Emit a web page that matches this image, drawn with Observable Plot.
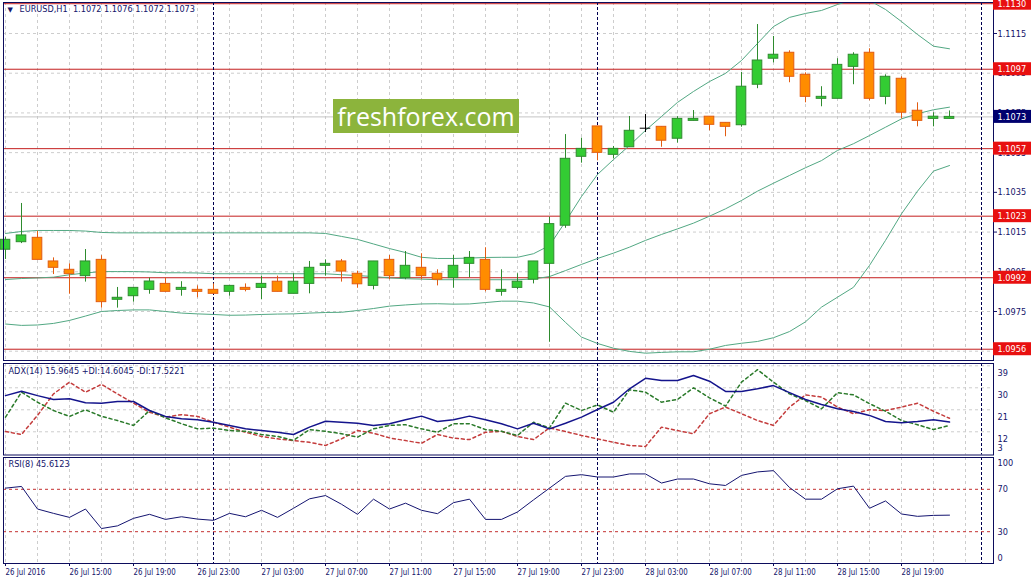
<!DOCTYPE html>
<html><head><meta charset="utf-8">
<script src="https://cdn.jsdelivr.net/npm/d3@7"></script>
<script src="https://cdn.jsdelivr.net/npm/@observablehq/plot@0.6"></script>
<style>
body{margin:0;background:#fff;}
#chart{position:relative;width:1033px;height:585px;overflow:hidden;background:#fff;}
#chart svg{position:absolute;left:0;background:transparent;max-width:none;}
#chart text{white-space:pre;}
#wm{position:absolute;left:333px;top:99px;width:186px;height:34px;background:#8cb43c;color:#fff;font:25px "Open Sans",sans-serif;display:flex;align-items:center;justify-content:center;line-height:1;}
</style></head><body><div id="chart"></div>
<script>
// ---------- data ----------
const symbol = "EURUSD,H1";
const opens  = [1.10061,1.10099,1.10121,1.10002,1.09960,1.09928,1.10010,1.09809,1.09827,1.09859,1.09889,1.09859,1.09859,1.09859,1.09849,1.09869,1.09869,1.09900,1.09839,1.09889,1.09980,1.10002,1.09940,1.09879,1.10010,1.09918,1.09970,1.09940,1.09918,1.09990,1.10010,1.09849,1.09869,1.09910,1.09990,1.10182,1.10529,1.10682,1.10539,1.10577,1.10673,1.10680,1.10620,1.10710,1.10731,1.10700,1.10688,1.10892,1.11023,1.11053,1.10942,1.10821,1.10821,1.10982,1.11053,1.10831,1.10922,1.10761,1.10720,1.1072];
const highs  = [1.10124,1.10294,1.10154,1.10020,1.09990,1.10062,1.10031,1.09871,1.09869,1.09918,1.09918,1.09900,1.09879,1.09889,1.09879,1.09889,1.09928,1.09928,1.09940,1.10002,1.10010,1.10012,1.09953,1.10002,1.10032,1.10052,1.10041,1.09960,1.10032,1.10052,1.10071,1.09960,1.09940,1.10002,1.10225,1.10641,1.10623,1.10682,1.10581,1.10732,1.10742,1.10680,1.10731,1.10762,1.10731,1.10700,1.10954,1.11195,1.11135,1.11063,1.10952,1.10882,1.11023,1.11053,1.11073,1.10942,1.10932,1.10801,1.10751,1.1076];
const lows   = [1.10012,1.10092,1.10010,1.09936,1.09837,1.09898,1.09767,1.09767,1.09797,1.09837,1.09849,1.09827,1.09819,1.09839,1.09827,1.09849,1.09809,1.09849,1.09839,1.09839,1.09928,1.09898,1.09867,1.09859,1.09910,1.09910,1.09910,1.09879,1.09867,1.09920,1.09849,1.09827,1.09859,1.09889,1.09595,1.10169,1.10497,1.10509,1.10519,1.10577,1.10651,1.10577,1.10598,1.10710,1.10660,1.10630,1.10678,1.10872,1.11002,1.10902,1.10801,1.10781,1.10821,1.10892,1.10811,1.10791,1.10720,1.10680,1.10680,1.1072];
const closes = [1.10111,1.10133,1.10010,1.09970,1.09938,1.10002,1.09797,1.09819,1.09869,1.09901,1.09849,1.09869,1.09849,1.09839,1.09879,1.09859,1.09889,1.09849,1.09900,1.09970,1.09990,1.09951,1.09887,1.10002,1.09928,1.09980,1.09928,1.09910,1.09980,1.10020,1.09859,1.09859,1.09900,1.10002,1.10190,1.10519,1.10569,1.10549,1.10569,1.10660,1.10673,1.10610,1.10720,1.10720,1.10690,1.10680,1.10882,1.11014,1.11043,1.10932,1.10831,1.10831,1.10992,1.11043,1.10821,1.10932,1.10751,1.10710,1.10731,1.1073];

const bbUpper  = [1.10143,1.10153,1.10158,1.10158,1.10158,1.10155,1.10148,1.10146,1.10146,1.10146,1.10146,1.10146,1.10146,1.10146,1.10146,1.10146,1.10146,1.10146,1.10146,1.10146,1.10143,1.10128,1.10113,1.10090,1.10067,1.10047,1.10023,1.10017,1.10017,1.10019,1.10022,1.10023,1.10023,1.10041,1.10082,1.10203,1.10329,1.10440,1.10515,1.10586,1.10662,1.10732,1.10803,1.10858,1.10908,1.10949,1.11014,1.11100,1.11185,1.11231,1.11251,1.11266,1.11296,1.11321,1.11316,1.11271,1.11210,1.11145,1.11086,1.11073];
const bbMiddle = [1.09911,1.09916,1.09919,1.09923,1.09935,1.09944,1.09951,1.09951,1.09951,1.09949,1.09945,1.09945,1.09944,1.09940,1.09940,1.09940,1.09940,1.09940,1.09940,1.09940,1.09940,1.09935,1.09931,1.09926,1.09919,1.09915,1.09913,1.09910,1.09910,1.09910,1.09910,1.09910,1.09910,1.09914,1.09926,1.09956,1.09987,1.10017,1.10044,1.10074,1.10108,1.10138,1.10166,1.10195,1.10230,1.10267,1.10309,1.10356,1.10396,1.10435,1.10474,1.10510,1.10561,1.10595,1.10636,1.10678,1.10720,1.10746,1.10766,1.10779];
const bbLower  = [1.09687,1.09680,1.09682,1.09690,1.09705,1.09727,1.09750,1.09755,1.09758,1.09758,1.09750,1.09742,1.09738,1.09735,1.09731,1.09732,1.09735,1.09737,1.09738,1.09742,1.09745,1.09746,1.09755,1.09765,1.09777,1.09783,1.09788,1.09789,1.09787,1.09788,1.09795,1.09802,1.09802,1.09793,1.09773,1.09695,1.09621,1.09589,1.09565,1.09549,1.09540,1.09544,1.09547,1.09547,1.09560,1.09579,1.09590,1.09599,1.09618,1.09649,1.09698,1.09772,1.09822,1.09872,1.09982,1.10108,1.10242,1.10356,1.10457,1.10485];

const levels = [1.1130, 1.1097, 1.1057, 1.1023, 1.0992, 1.0956];
const priceTicks = [1.0955, 1.0975, 1.0995, 1.1015, 1.1035, 1.1055, 1.1075, 1.1095, 1.1115];

const adxMain = [26.8,28.6,26.8,25.2,25.5,23.9,23.7,24.4,24.4,20.7,18.3,17.3,16.9,15.9,14.6,13.2,12.5,11.8,10.9,13.9,16.3,15.9,15.5,14.6,15.3,16.9,18.4,16.2,16.9,18.4,16.9,15.3,13.2,15.5,13.2,15.5,18.0,21.1,24.1,29.6,33.9,33.0,33.0,35.0,32.7,28.5,28.5,29.6,30.9,28.0,25.2,23.2,21.4,20.3,18.7,16.2,15.7,16.2,16.9,15.9645];
const plusDI  = [18.0,28.2,24.1,20.7,18.3,21.0,18.3,16.6,14.6,20.7,17.7,15.3,13.2,13.5,12.5,12.2,10.9,10.1,8.5,12.9,12.2,11.2,9.8,13.2,14.6,14.9,13.2,11.8,15.3,15.3,12.9,12.2,10.5,15.9,13.6,23.7,20.7,23.0,20.0,29.2,28.2,24.1,25.2,30.0,25.9,22.5,32.3,37.4,32.3,27.5,24.8,21.4,28.0,27.1,23.5,20.4,16.6,14.9,12.9,14.6045];
const minusDI = [12.1,10.9,18.7,27.5,32.3,28.2,31.4,27.5,23.7,20.0,18.0,19.0,18.3,15.9,13.9,11.8,10.1,9.1,8.4,7.7,6.4,9.1,12.5,11.4,9.5,8.4,7.3,10.9,9.4,8.8,11.8,12.2,10.1,8.8,13.6,12.1,10.5,9.1,7.7,6.4,6.0,13.9,12.5,11.2,19.4,22.1,19.4,16.6,14.6,22.1,27.1,26.2,22.1,19.4,21.0,20.7,22.1,23.7,20.4,17.5221];
const adxTicks = [39, 30, 21, 12];
const adxMinLabel = [3];

const rsi = [71.1,72.7,51.4,47.3,43.5,51.4,33.0,35.5,42.6,46.4,41.6,44.1,41.9,40.7,47.3,44.1,50.2,43.5,52.1,61.0,64.1,55.9,46.4,60.7,51.4,56.9,50.2,47.0,57.4,60.7,41.6,41.6,48.6,60.0,71.1,82.2,83.8,81.6,81.6,84.5,84.5,75.9,79.7,79.7,75.2,73.6,83.1,86.4,87.6,71.7,60.7,60.7,70.5,73.0,52.1,59.0,46.7,44.5,45.4,45.6123];
const rsiLevels = [70, 30];
const rsiTicks = [100, 70, 30, 0];

const xLabels = ["26 Jul 2016","26 Jul 15:00","26 Jul 19:00","26 Jul 23:00","27 Jul 03:00","27 Jul 07:00","27 Jul 11:00","27 Jul 15:00","27 Jul 19:00","27 Jul 23:00","28 Jul 03:00","28 Jul 07:00","28 Jul 11:00","28 Jul 15:00","28 Jul 19:00"];
const daySeparators = [13, 37, 61];

// ---------- helpers ----------
const n = opens.length;
const bars = d3.range(n).map(i => ({i, o: opens[i], h: highs[i], l: lows[i], c: closes[i]}));
const series = arr => arr.map((v, i) => ({i, v}));
const gridBars = d3.range(0, 61, 2);
const f4 = d3.format(".4f");

const W = 1033, ML = 3, MR = 40;
const XDOM = [-0.125, 61.75];
const NAVY = "#13136a", FRAME = "#0c0c5c", GRID = "#cdcdcd", SEP = "#000050";
const BAND = "#52a883";
const BULL_F = "#33cc33", BULL_S = "#2e8b2e", BEAR_F = "#ff8c00", BEAR_S = "#e25c12";
const LEVEL = "#c41e1e", LEVEL_BOX = "#e81010", PRICE_BOX = "#00006e";
const FONT = "'DejaVu Sans', sans-serif";
const style = {fontFamily: FONT, fontSize: "9.5px", color: NAVY, background: "transparent", overflow: "visible"};
const bodyFill = d => d.c > d.o ? BULL_F : d.c < d.o ? BEAR_F : "black";
const bodyStroke = d => d.c > d.o ? BULL_S : d.c < d.o ? BEAR_S : "black";
const PX_PER_PRICE = 19857;
const boxHalf = 6.5 / PX_PER_PRICE;
const boxX2 = XDOM[1] + 38 / 16;
const last = n - 1;

// ---------- main price panel ----------
const main = Plot.plot({
  width: W, height: 362, marginLeft: ML, marginRight: MR, marginTop: 2, marginBottom: 2,
  x: {type: "linear", domain: XDOM, axis: null},
  y: {domain: [1.095032, 1.113061], axis: null},
  style,
  marks: [
    Plot.ruleY(priceTicks, {stroke: GRID, strokeDasharray: "3,3"}),
    Plot.ruleX(gridBars, {stroke: GRID, strokeDasharray: "3,3"}),
    Plot.ruleY(levels, {stroke: LEVEL}),
    Plot.ruleY([closes[last]], {stroke: "#c4c4c4"}),
    Plot.ruleX(daySeparators, {stroke: SEP, strokeDasharray: "3,2"}),
    Plot.line(series(bbUpper), {x: "i", y: "v", stroke: BAND, strokeWidth: 1, clip: true}),
    Plot.line(series(bbMiddle), {x: "i", y: "v", stroke: BAND, strokeWidth: 1, clip: true}),
    Plot.line(series(bbLower), {x: "i", y: "v", stroke: BAND, strokeWidth: 1, clip: true}),
    Plot.ruleX(bars, {x: "i", y1: "l", y2: "h", stroke: bodyStroke}),
    Plot.rect(bars.filter(d => d.o !== d.c), {x1: d => d.i - 0.3, x2: d => d.i + 0.3, y1: "o", y2: "c", fill: bodyFill, stroke: bodyStroke}),
    Plot.ruleY(bars.filter(d => d.o === d.c), {y: "o", x1: d => d.i - 0.33, x2: d => d.i + 0.33, stroke: "black"}),
    Plot.frame({stroke: FRAME}),
    Plot.axisY({anchor: "right", ticks: priceTicks, tickSize: 3, tickPadding: 1, tickFormat: f4, label: null}),
    Plot.rect(levels, {x1: XDOM[1], x2: boxX2, y1: d => d - boxHalf, y2: d => d + boxHalf, fill: LEVEL_BOX}),
    Plot.text(levels, {x: XDOM[1], y: d => d, dx: 4, textAnchor: "start", fill: "white", text: f4}),
    Plot.rect([closes[last]], {x1: XDOM[1], x2: boxX2, y1: d => d - boxHalf, y2: d => d + boxHalf, fill: PRICE_BOX}),
    Plot.text([closes[last]], {x: XDOM[1], y: d => d, dx: 4, textAnchor: "start", fill: "white", text: f4}),
    Plot.text(["▼"], {frameAnchor: "top-left", dx: 4, dy: 5, fontSize: 7, fill: NAVY}),
    Plot.text([`${symbol}  ${f4(opens[last])} ${f4(highs[last])} ${f4(lows[last])} ${f4(closes[last])}`],
      {frameAnchor: "top-left", dx: 16, dy: 3, fill: NAVY, text: d => d})
  ]
});

// ---------- ADX panel ----------
const adxPlot = Plot.plot({
  width: W, height: 95, marginLeft: ML, marginRight: MR, marginTop: 2, marginBottom: 1.5,
  x: {type: "linear", domain: XDOM, axis: null},
  y: {domain: [2.5, 39.94], axis: null},
  style,
  marks: [
    Plot.ruleY(adxTicks, {stroke: GRID, strokeDasharray: "3,3"}),
    Plot.ruleX(gridBars, {stroke: GRID, strokeDasharray: "3,3"}),
    Plot.ruleX(daySeparators, {stroke: SEP, strokeDasharray: "3,2"}),
    Plot.line(series(minusDI), {x: "i", y: "v", stroke: "#c43c3c", strokeDasharray: "3,3"}),
    Plot.line(series(plusDI), {x: "i", y: "v", stroke: "#2a7a2a", strokeDasharray: "3,3"}),
    Plot.line(series(adxMain), {x: "i", y: "v", stroke: "#14148c", strokeWidth: 1.5}),
    Plot.frame({stroke: FRAME}),
    Plot.text(adxTicks, {frameAnchor: "right", y: d => d, dx: 4, dy: 7, textAnchor: "start", text: d => String(d), fill: NAVY}),
    Plot.text(adxMinLabel, {frameAnchor: "right", y: d => d, dx: 4, dy: -6, textAnchor: "start", text: d => String(d), fill: NAVY}),
    Plot.text([`ADX(14) ${f4(adxMain[last])} +DI:${f4(plusDI[last])} -DI:${f4(minusDI[last])}`],
      {frameAnchor: "top-left", dx: 5, dy: 4, fill: NAVY, text: d => d})
  ]
});

// ---------- RSI panel ----------
const rsiPlot = Plot.plot({
  width: W, height: 130, marginLeft: ML, marginRight: MR, marginTop: 2, marginBottom: 22,
  x: {type: "linear", domain: XDOM, label: null},
  y: {domain: [0, 100], axis: null},
  style,
  marks: [
    Plot.ruleX(gridBars, {stroke: GRID, strokeDasharray: "3,3"}),
    Plot.ruleX(daySeparators, {stroke: SEP, strokeDasharray: "3,2"}),
    Plot.ruleY(rsiLevels, {stroke: "#c43030", strokeDasharray: "3,3"}),
    Plot.line(series(rsi), {x: "i", y: "v", stroke: "#141470", strokeWidth: 1}),
    Plot.frame({stroke: FRAME}),
    Plot.axisX({ticks: d3.range(0, xLabels.length * 4, 4), tickFormat: i => xLabels[i / 4], tickSize: 3, tickPadding: 2, textAnchor: "start", fill: NAVY, stroke: FRAME, label: null}),
    Plot.text(rsiTicks.filter(d => d === 100), {frameAnchor: "right", y: d => d, dx: 4, dy: 5, textAnchor: "start", text: d => String(d), fill: NAVY}),
    Plot.text(rsiTicks.filter(d => d > 0 && d < 100), {frameAnchor: "right", y: d => d, dx: 4, dy: 0, textAnchor: "start", text: d => String(d), fill: NAVY}),
    Plot.text(rsiTicks.filter(d => d === 0), {frameAnchor: "right", y: d => d, dx: 4, dy: -6, textAnchor: "start", text: d => String(d), fill: NAVY}),
    Plot.text([`RSI(8) ${f4(rsi[last])}`], {frameAnchor: "top-left", dx: 5, dy: 3, fill: NAVY, text: d => d})
  ]
});

const chart = document.getElementById("chart");
main.style.top = "0px";
adxPlot.style.top = "361px";
rsiPlot.style.top = "455px";
chart.append(main, adxPlot, rsiPlot);
const wm = document.createElement("div");
wm.id = "wm";
wm.textContent = "freshforex.com";
chart.append(wm);

// condense text widths to mimic the narrow terminal font
[main, adxPlot, rsiPlot].forEach(svg => {
  svg.querySelectorAll("text").forEach(t => {
    const s = t.textContent;
    if (!s || s === "▼") return;
    const k = /Jul/.test(s) ? 0.74 : 0.86;
    const w = t.getComputedTextLength();
    if (w > 0) {
      t.setAttribute("textLength", (w * k).toFixed(1));
      t.setAttribute("lengthAdjust", "spacingAndGlyphs");
    }
  });
});
</script>
</body></html>
